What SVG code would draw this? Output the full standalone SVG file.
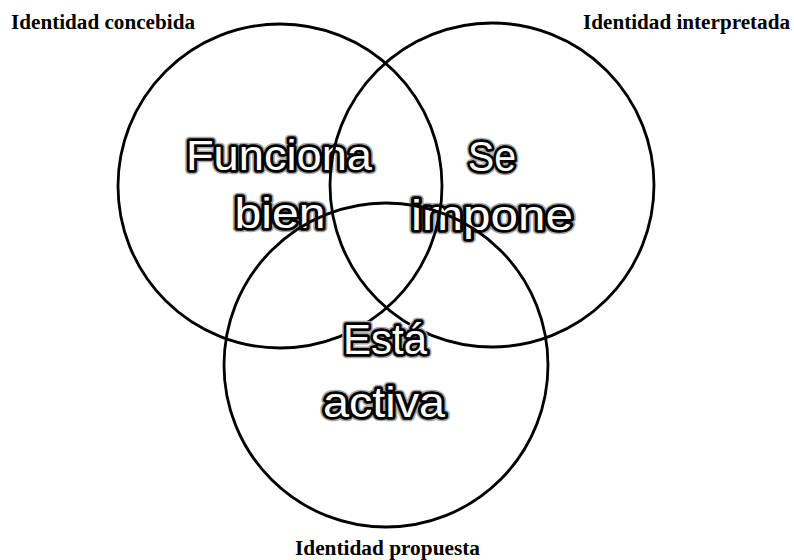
<svg xmlns="http://www.w3.org/2000/svg" width="794" height="560" viewBox="0 0 794 560">
<style>
.lbl{font-family:"Liberation Serif","Times New Roman",serif;font-weight:bold;font-size:20px;fill:#000}
.big{font-family:"Liberation Sans",Arial,sans-serif;font-size:42px;fill:#fff;stroke:#000;stroke-width:5.5;paint-order:stroke;text-anchor:middle;stroke-linejoin:round}
.glow{font-family:"Liberation Sans",Arial,sans-serif;font-size:42px;fill:none;stroke:#a8a8a8;stroke-width:8.5;text-anchor:middle;stroke-linejoin:round}
.c{fill:none;stroke:#000;stroke-width:2.8}
</style>
<rect width="794" height="560" fill="#fff"/>
<g id="labels">
<text class="lbl" x="11" y="29" textLength="184" lengthAdjust="spacingAndGlyphs">Identidad concebida</text>
<text class="lbl" x="583" y="29" textLength="207" lengthAdjust="spacingAndGlyphs">Identidad interpretada</text>
<text class="lbl" x="295" y="555" textLength="185" lengthAdjust="spacingAndGlyphs">Identidad propuesta</text>
</g>
<g id="node-concebida-text">
<text class="glow" x="279" y="170" textLength="186" lengthAdjust="spacingAndGlyphs">Funciona</text>
<text class="big" x="279" y="170" textLength="186" lengthAdjust="spacingAndGlyphs">Funciona</text>
<text class="glow" x="280" y="228" textLength="91" lengthAdjust="spacingAndGlyphs">bien</text>
<text class="big" x="280" y="228" textLength="91" lengthAdjust="spacingAndGlyphs">bien</text>
</g>
<g id="node-interpretada-text">
<text class="glow" x="492" y="171" textLength="48" lengthAdjust="spacingAndGlyphs">Se</text>
<text class="big" x="492" y="171" textLength="48" lengthAdjust="spacingAndGlyphs">Se</text>
<text class="glow" x="492" y="230" textLength="162" lengthAdjust="spacingAndGlyphs">impone</text>
<text class="big" x="492" y="230" textLength="162" lengthAdjust="spacingAndGlyphs">impone</text>
</g>
<g id="connectors">
<circle id="c-concebida" class="c" cx="280" cy="186" r="162"/>
<circle id="c-interpretada" class="c" cx="492" cy="185" r="162"/>
<circle id="c-propuesta" class="c" cx="386" cy="365" r="162"/>
</g>
<g id="node-propuesta-text">
<text class="glow" x="385" y="354" textLength="84" lengthAdjust="spacingAndGlyphs">Está</text>
<text class="big" x="385" y="354" textLength="84" lengthAdjust="spacingAndGlyphs">Está</text>
<text class="glow" x="384" y="417" textLength="122" lengthAdjust="spacingAndGlyphs">activa</text>
<text class="big" x="384" y="417" textLength="122" lengthAdjust="spacingAndGlyphs">activa</text>
</g>
</svg>
